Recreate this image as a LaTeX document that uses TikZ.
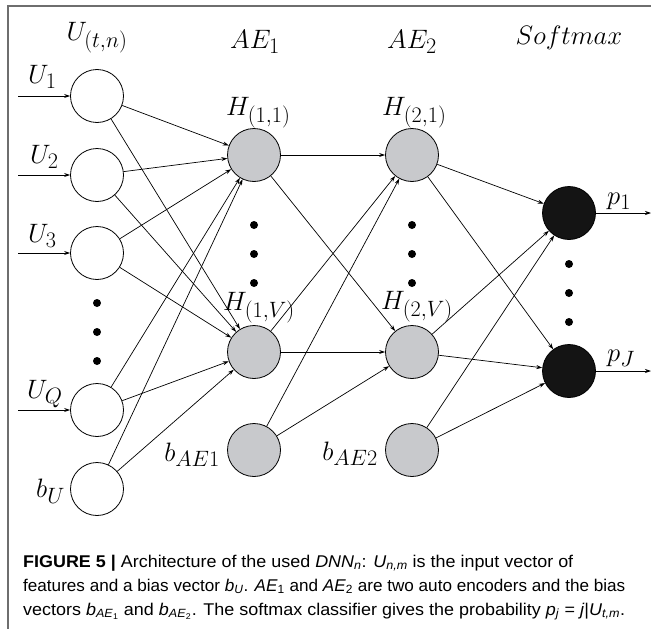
\documentclass[tikz,border=0pt]{standalone}
\usepackage{graphicx}
\usepackage{fontspec}
\newfontfamily\capfont{Liberation Sans}
\usetikzlibrary{arrows.meta}

\definecolor{framegray}{RGB}{110,110,110}
\definecolor{hidgray}{RGB}{200,201,204}
\definecolor{outblack}{RGB}{20,20,20}

% italic subscripts inside the sans caption
\newcommand{\capsb}[1]{\textsubscript{\textit{#1}}}
% math labels, slightly enlarged beyond the largest CM design size
\newcommand{\mlab}[1]{\scalebox{1.07}{$#1$}}
% one caption line set to a given width
\newcommand{\capline}[2]{\resizebox{#1}{\height}{#2}}

\begin{document}
\begin{tikzpicture}[x=1pt,y=-1pt,
  neuron/.style={circle,draw=black,line width=0.8pt,minimum size=53pt,inner sep=0pt},
  inneuron/.style={neuron,fill=white},
  hidneuron/.style={neuron,fill=hidgray},
  outneuron/.style={neuron,fill=outblack},
  vdot/.style={circle,fill=black,minimum size=8pt,inner sep=0pt},
  lab/.style={inner sep=0pt,font=\fontsize{24.88}{30}\selectfont},
  head/.style={lab,anchor=base},
  conn/.style={line width=0.7pt,-{Stealth[length=6pt,width=4pt]}},
  captext/.style={inner sep=0pt,anchor=base west,font=\capfont\fontsize{17}{20}\selectfont}
]
\useasboundingbox (0,0) rectangle (651,629);

% frame (top and left edges)
\draw[framegray,line width=1.4pt] (8,629) -- (8,6) -- (651,6);

% column headings
\node[head] (hU)  at (97,40)  {\mlab{U_{(t,n)}}};
\node[head] (hA1) at (255,48) {\mlab{AE_1}};
\node[head] (hA2) at (412,48) {\mlab{AE_2}};
\node[head] (hS)  at (569,45) {\mlab{Softmax}};

% input layer
\node[inneuron] (U1) at (97,96)  {};
\node[inneuron] (U2) at (97,175) {};
\node[inneuron] (U3) at (97,253) {};
\node[inneuron] (UQ) at (97,410) {};
\node[inneuron] (bU) at (97,489) {};
\node[vdot] (iv1) at (97,303) {};
\node[vdot] (iv2) at (97,332) {};
\node[vdot] (iv3) at (97,361) {};

% first auto encoder
\node[hidneuron] (H11) at (254,155) {};
\node[hidneuron] (H1V) at (254,352) {};
\node[hidneuron] (bA1) at (254,450) {};
\node[vdot] (av1) at (254,225) {};
\node[vdot] (av2) at (254,254) {};
\node[vdot] (av3) at (254,283) {};

% second auto encoder
\node[hidneuron] (H21) at (412,155) {};
\node[hidneuron] (H2V) at (412,352) {};
\node[hidneuron] (bA2) at (412,450) {};
\node[vdot] (bv1) at (412,225) {};
\node[vdot] (bv2) at (412,254) {};
\node[vdot] (bv3) at (412,283) {};

% softmax layer
\node[outneuron] (P1) at (569,213) {};
\node[outneuron] (PJ) at (569,371) {};
\node[vdot] (sv1) at (569,264) {};
\node[vdot] (sv2) at (569,293) {};
\node[vdot] (sv3) at (569,322) {};

% node labels
\node[lab,anchor=base west] (lU1) at (28,83)  {\mlab{U_1}};
\node[lab,anchor=base west] (lU2) at (30,163) {\mlab{U_2}};
\node[lab,anchor=base west] (lU3) at (28,242) {\mlab{U_3}};
\node[lab,anchor=base west] (lUQ) at (27,398) {\mlab{U_Q}};
\node[lab,anchor=base west] (lbU) at (36,497) {\mlab{b_U}};
\node[lab,anchor=base west] (lH11) at (226,115) {\mlab{H_{(1,1)}}};
\node[lab,anchor=base west] (lH1V) at (223,310) {\mlab{H_{(1,V)}}};
\node[lab,anchor=base west] (lH21) at (382,115) {\mlab{H_{(2,1)}}};
\node[lab,anchor=base west] (lH2V) at (381,309) {\mlab{H_{(2,V)}}};
\node[lab,anchor=base east] (lbA1) at (220,461) {\mlab{b_{AE1}}};
\node[lab,anchor=base east] (lbA2) at (378,460) {\mlab{b_{AE2}}};
\node[lab,anchor=base west] (lP1) at (607,204) {\mlab{p_1}};
\node[lab,anchor=base west] (lPJ) at (607,361) {\mlab{p_J}};

% free ends of the input and output arrows
\coordinate (in1) at (18,96);
\coordinate (in2) at (18,175);
\coordinate (in3) at (18,253);
\coordinate (inQ) at (18,410);
\coordinate (out1) at (651,213);
\coordinate (outJ) at (651,371);

\draw[conn] (in1) -- (U1);
\draw[conn] (in2) -- (U2);
\draw[conn] (in3) -- (U3);
\draw[conn] (inQ) -- (UQ);
\draw[conn] (P1) -- (out1);
\draw[conn] (PJ) -- (outJ);

% input layer to first auto encoder
\foreach \s in {U1,U2,U3,UQ,bU}{
  \draw[conn] (\s) -- (H11);
  \draw[conn] (\s) -- (H1V);
}
% first to second auto encoder
\foreach \s in {H11,H1V,bA1}{
  \draw[conn] (\s) -- (H21);
  \draw[conn] (\s) -- (H2V);
}
% second auto encoder to softmax
\foreach \s in {H21,H2V,bA2}{
  \draw[conn] (\s) -- (P1);
  \draw[conn] (\s) -- (PJ);
}

% caption
\node[captext] (cap1) at (23,567) {\capline{550pt}{\textbf{FIGURE 5 |} Architecture of the used \textit{DNN}\capsb{n}: \textit{U}\capsb{n,m} is the input vector of}};
\node[captext] (cap2) at (23,591) {\capline{602pt}{features and a bias vector \textit{b}\capsb{U}. \textit{AE}\textsubscript{1} and \textit{AE}\textsubscript{2} are two auto encoders and the bias}};
\node[captext] (cap3) at (23,615) {\capline{602pt}{vectors \textit{b}\textsubscript{\textit{AE}\textsubscript{1}} and \textit{b}\textsubscript{\textit{AE}\textsubscript{2}}. The softmax classifier gives the probability \textit{p}\capsb{j} = \textit{j}|\textit{U}\capsb{t,m}.}};
\end{tikzpicture}
\end{document}
